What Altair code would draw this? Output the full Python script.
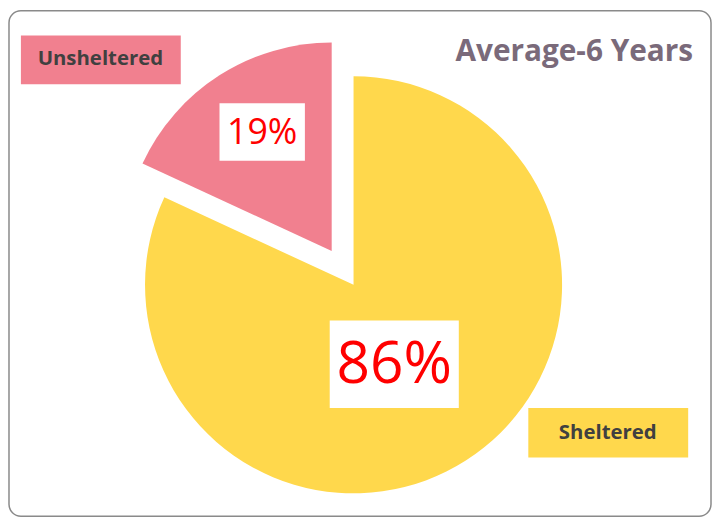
import altair as alt
import pandas as pd

categories = ["Sheltered", "Unsheltered"]
values = [86, 19]
pct_labels = ["86%", "19%"]
colors = ["#FFD84C", "#F1808F"]
title_text = "Average-6 Years"

W, H = 710, 511
df = pd.DataFrame({"cat": categories, "value": values, "pct": pct_labels, "order": [0, 1]})
one = pd.DataFrame({"k": [0]})

base = (
    alt.Chart(df)
    .transform_joinaggregate(total="sum(value)")
    .transform_window(cum="sum(value)", sort=[alt.SortField("order")], frame=[None, 0])
    .transform_calculate(t0="(datum.cum - datum.value) / datum.total", t1="datum.cum / datum.total")
)

theta_scale = alt.Scale(domain=[0, 1], range=[0, 6.283185307179586])
color_scale = alt.Scale(domain=categories, range=colors)


def slice_layer(cat, cx, cy):
    return base.transform_filter(alt.datum.cat == cat).mark_arc(radius=210, x=cx, y=cy).encode(
        theta=alt.Theta("t0:Q", scale=theta_scale),
        theta2=alt.Theta2("t1:Q"),
        color=alt.Color("cat:N", scale=color_scale, legend=None),
    )


def box(x1, x2, y1, y2, fill, stroke=None):
    kw = dict(fill=fill)
    if stroke:
        kw = dict(fill="transparent", stroke=stroke, strokeWidth=1.5, cornerRadius=12)
    return alt.Chart(one).mark_rect(**kw).encode(
        x=alt.value(x1), x2=alt.value(x2), y=alt.value(y1), y2=alt.value(y2)
    )


def label(cat, field, cx, cy, size, color, weight):
    return base.transform_filter(alt.datum.cat == cat).mark_text(
        x=cx, y=cy, fontSize=size, color=color, font="Open Sans", fontWeight=weight,
        align="center", baseline="middle",
    ).encode(text=alt.Text(f"{field}:N"))


border = box(1, W - 2, 1, H - 1, None, stroke="#8A8A8A")

sheltered = slice_layer("Sheltered", 348, 277)
unsheltered = slice_layer("Unsheltered", 326, 243)

unsh_box = box(13, 174, 26, 75, colors[1])
sh_box = box(524, 685, 401, 451, colors[0])
p19_box = box(213, 299, 94, 152, "white")
p86_box = box(324, 454, 313, 401, "white")

unsh_txt = label("Unsheltered", "cat", 93, 50, 20.5, "#404040", "bold")
sh_txt = label("Sheltered", "cat", 604, 426, 20.5, "#404040", "bold")
p19_txt = label("Unsheltered", "pct", 256, 124, 36, "#FF0000", "normal")
p86_txt = label("Sheltered", "pct", 389, 358, 59, "#FF0000", "normal")

title = alt.Chart(one).mark_text(
    text=title_text, x=690, y=43, align="right", baseline="middle",
    font="Open Sans", fontWeight="bold", fontSize=30, color="#7A6A7A",
).encode(opacity=alt.value(1))

chart = alt.layer(
    border, sheltered, unsheltered, unsh_box, sh_box, p19_box, p86_box,
    unsh_txt, sh_txt, p19_txt, p86_txt, title,
).properties(
    width=W, height=H, padding=0, autosize=alt.AutoSizeParams(type="none"),
).configure_view(stroke=None)

chart.save("out.html", embed_options={"renderer": "svg", "actions": False})
